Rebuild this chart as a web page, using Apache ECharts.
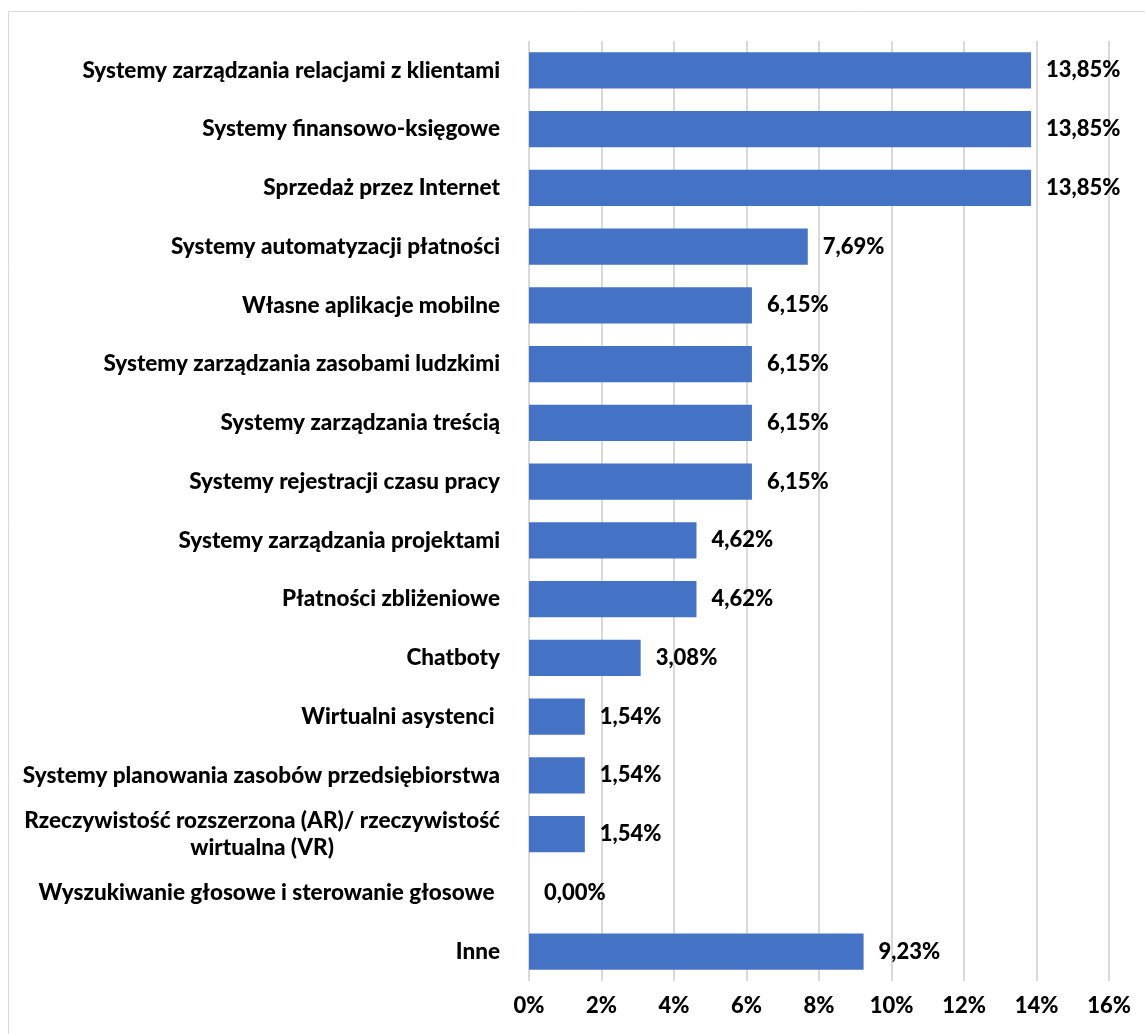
<!DOCTYPE html>
<html>
<head>
<meta charset="utf-8">
<script src="https://cdn.jsdelivr.net/npm/echarts@6/dist/echarts.min.js"></script>
<style>
  html, body { margin: 0; padding: 0; background: #fff; }
  #chart { width: 1145px; height: 1034px; }
</style>
</head>
<body>
<div id="chart"></div>
<script>
// Categories (top to bottom)
var categories = [
  'Systemy zarządzania relacjami z klientami',
  'Systemy finansowo-księgowe',
  'Sprzedaż przez Internet',
  'Systemy automatyzacji płatności',
  'Własne aplikacje mobilne',
  'Systemy zarządzania zasobami ludzkimi',
  'Systemy zarządzania treścią',
  'Systemy rejestracji czasu pracy',
  'Systemy zarządzania projektami',
  'Płatności zbliżeniowe',
  'Chatboty',
  'Wirtualni asystenci ',
  'Systemy planowania zasobów przedsiębiorstwa',
  'Rzeczywistość rozszerzona (AR)/ rzeczywistość\nwirtualna (VR)',
  'Wyszukiwanie głosowe i sterowanie głosowe ',
  'Inne'
];

// Share of respondents, in percent
var values = [13.85, 13.85, 13.85, 7.69, 6.15, 6.15, 6.15, 6.15, 4.62, 4.62, 3.08, 1.54, 1.54, 1.54, 0.00, 9.23];

// Value axis
var axisMin = 0;
var axisMax = 16;
var axisStep = 2;

var FONT = 'Lato, "Open Sans", sans-serif';
var FS = 22;
var FS_CAT = 22.5;
var FW = 900;

function pct(v) {
  return v.toFixed(2).replace('.', ',') + '%';
}

var chart = echarts.init(document.getElementById('chart'));
chart.setOption({
  animation: false,
  backgroundColor: '#ffffff',
  graphic: [{
    type: 'rect',
    shape: { x: 8.5, y: 11.5, width: 1200, height: 1100 },
    style: { fill: 'none', stroke: '#d9d9d9', lineWidth: 1 },
    silent: true
  }],
  grid: { left: 529, right: 36, top: 41, bottom: 53, containLabel: false },
  xAxis: {
    type: 'value',
    min: axisMin,
    max: axisMax,
    interval: axisStep,
    axisLine: { show: false },
    axisTick: { show: false },
    splitLine: { show: true, lineStyle: { color: '#d9d9d9', width: 2 } },
    axisLabel: {
      margin: 14,
      color: '#000',
      fontFamily: FONT,
      fontWeight: FW,
      fontSize: FS,
      formatter: function (v) { return v + '%'; }
    }
  },
  yAxis: {
    type: 'category',
    inverse: true,
    data: categories,
    axisLine: { show: false },
    axisTick: { show: false },
    splitLine: { show: false },
    axisLabel: {
      margin: 29,
      color: '#000',
      fontFamily: FONT,
      fontWeight: FW,
      fontSize: FS_CAT,
      lineHeight: 27,
      formatter: function (v) {
        return v.split('\n').map(function (s) { return '{c|' + s + '}'; }).join('\n');
      },
      rich: {
        c: {
          align: 'center',
          color: '#000',
          fontFamily: FONT,
          fontWeight: FW,
          fontSize: FS_CAT,
          lineHeight: 27
        }
      }
    }
  },
  series: [{
    type: 'bar',
    data: values,
    barCategoryGap: '38%',
    itemStyle: { color: '#4472c4' },
    label: {
      show: true,
      position: 'right',
      distance: 15,
      color: '#000',
      fontFamily: FONT,
      fontWeight: FW,
      fontSize: FS,
      formatter: function (p) { return pct(p.value); }
    }
  }]
});
</script>
</body>
</html>
